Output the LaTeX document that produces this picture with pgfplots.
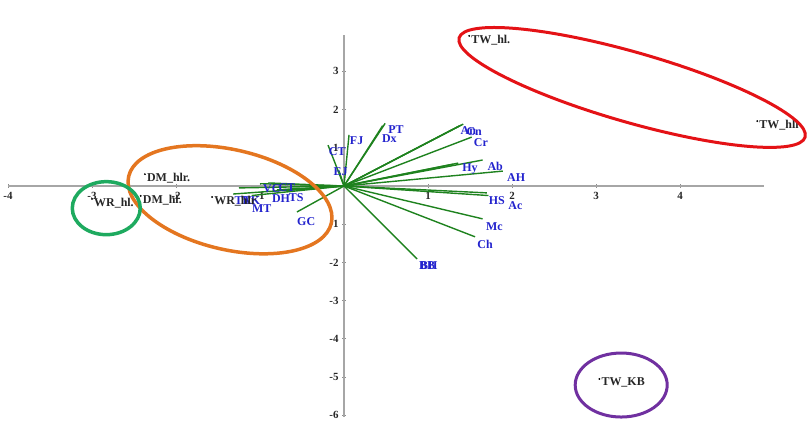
\documentclass[border=0pt]{standalone}
\usepackage{fontspec}
\setmainfont{Liberation Serif}
\usepackage{pgfplots}
\usepackage{pgfplotstable}
\pgfplotsset{compat=1.18}
\definecolor{vecgreen}{RGB}{30,130,30}
\definecolor{lblue}{RGB}{35,35,205}
\definecolor{ellred}{RGB}{228,18,22}
\definecolor{ellorange}{RGB}{228,118,32}
\definecolor{ellgreen}{RGB}{30,170,95}
\definecolor{ellpurple}{RGB}{112,48,160}

% sample scores
\pgfplotstableread{
x y lab
1.49 3.93 TW\_hl.
4.92 1.70 TW\_hli
3.04 -5.05 TW\_KB
-2.37 0.31 DM\_hlr.
-2.42 -0.26 DM\_hl.
-3.00 -0.34 WR\_hl.
-1.57 -0.29 WR\_hlr
}\samples

% variable loadings (vectors from origin)
\pgfplotstableread{
x y u v
0 0 0.49 1.64
0 0 0.46 1.58
0 0 0.06 1.34
0 0 -0.19 1.07
0 0 -0.06 0.40
0 0 1.40 1.60
0 0 1.37 1.57
0 0 1.42 1.62
0 0 1.52 1.28
0 0 1.36 0.60
0 0 1.30 0.57
0 0 1.65 0.68
0 0 1.89 0.39
0 0 1.70 -0.18
0 0 1.72 -0.25
0 0 1.65 -0.86
0 0 1.56 -1.33
0 0 0.87 -1.91
0 0 -0.56 -0.68
0 0 -1.32 -0.21
0 0 -1.00 0.06
0 0 -0.90 0.08
0 0 -0.80 -0.10
0 0 -0.70 -0.12
0 0 -1.10 -0.25
0 0 -1.25 -0.05
}\loadings

% variable label positions
\pgfplotstableread{
x y lab
0.62 1.47 PT
0.54 1.23 Dx
0.15 1.18 FJ
-0.08 0.89 CT
-0.04 0.37 EJ
1.48 1.44 An
1.55 1.42 Cn
1.63 1.13 Cr
1.50 0.45 Hy
1.80 0.50 Ab
2.05 0.21 AH
1.82 -0.39 HS
2.04 -0.52 Ac
1.79 -1.07 Mc
1.68 -1.52 Ch
0.99 -2.09 BB
1.01 -2.09 BH
-0.45 -0.92 GC
-1.20 -0.37 TK
-1.10 -0.37 TK
-0.86 -0.08 VC
-0.68 -0.05 CT
-0.75 -0.34 DH
-0.57 -0.31 TS
-0.98 -0.58 MT
}\varlabels

\begin{document}
\begin{tikzpicture}
\path[use as bounding box] (-344bp,-252bp) rectangle (463bp,186bp);
\begin{axis}[
  at={(0,0)}, anchor=origin,
  x=84bp, y=38.2bp,
  xmin=-4, xmax=5, ymin=-6.05, ymax=3.95,
  axis lines=middle,
  axis line style={-, color=black!35, line width=1.6bp},
  xtick={-4,-3,-2,-1,1,2,3,4},
  ytick={-6,-5,-4,-3,-2,-1,1,2,3},
  major tick style={black!45, line width=0.8bp},
  major tick length=4bp,
  tick label style={font=\bfseries\fontsize{11}{11}\selectfont, text=black!85},
  /pgf/number format/assume math mode=true,
  xticklabel style={yshift=-1bp},
  clip=false,
]
% loadings
\addplot[vecgreen, line width=1.4bp, -, quiver={u=\thisrow{u}, v=\thisrow{v}}] table[x=x, y=y] {\loadings};
% variable labels
\addplot[draw=none, mark=none, nodes near coords, point meta=explicit symbolic,
  nodes near coords align={anchor=center},
  every node near coord/.append style={text=lblue, inner sep=0pt, font=\bfseries\fontsize{12}{12}\selectfont}]
  table[x=x, y=y, meta=lab] {\varlabels};
% samples
\addplot[only marks, mark=*, mark size=0.7bp, black, nodes near coords, point meta=explicit symbolic,
  nodes near coords align={anchor=north west},
  every node near coord/.append style={text=black!85, inner sep=0pt, xshift=2bp, yshift=1bp, font=\bfseries\fontsize{12}{12}\selectfont}]
  table[x=x, y=y, meta=lab] {\samples};
\coordinate (cred) at (axis cs:3.43,2.58);
\coordinate (corange) at (axis cs:-1.357,-0.36);
\coordinate (cgreen) at (axis cs:-2.83,-0.58);
\coordinate (cpurple) at (axis cs:3.30,-5.21);
\end{axis}
\draw[ellred, line width=3bp, rotate around={-16:(cred)}] (cred) ellipse [x radius=180bp, y radius=35bp];
\draw[ellorange, line width=3.5bp, rotate around={-13:(corange)}] (corange) ellipse [x radius=104bp, y radius=50bp];
\draw[ellgreen, line width=3.5bp] (cgreen) ellipse [x radius=34bp, y radius=26.5bp];
\draw[ellpurple, line width=3bp] (cpurple) ellipse [x radius=46bp, y radius=32bp];
\end{tikzpicture}
\end{document}
